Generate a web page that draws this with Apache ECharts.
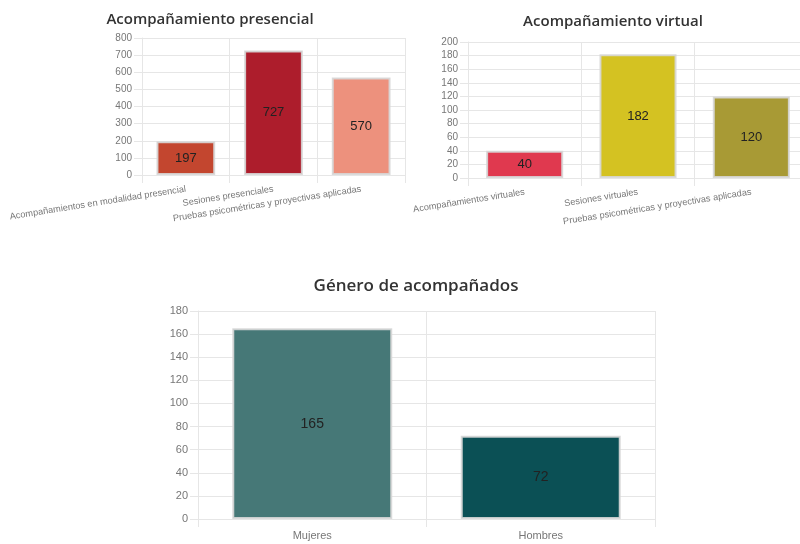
<!DOCTYPE html>
<html>
<head>
<meta charset="utf-8">
<script src="https://cdn.jsdelivr.net/npm/echarts@6/dist/echarts.min.js"></script>
<style>
  html, body { margin: 0; padding: 0; background: #fff; }
  #chart { width: 800px; height: 544px; }
</style>
</head>
<body>
<div id="chart"></div>
<script>
// datos
const presencialCats = ['Acompañamientos en modalidad presencial', 'Sesiones presenciales', 'Pruebas psicométricas y proyectivas aplicadas'];
const presencialVals = [197, 727, 570];
const presencialColors = ['#c3462f', '#ad1d2c', '#ed917d'];

const virtualCats = ['Acompañamientos virtuales', 'Sesiones virtuales', 'Pruebas psicométricas y proyectivas aplicadas'];
const virtualVals = [40, 182, 120];
const virtualColors = ['#e0394f', '#d4c222', '#a89a35'];

const generoCats = ['Mujeres', 'Hombres'];
const generoVals = [165, 72];
const generoColors = ['#467877', '#0b5055'];

const gridColor = '#e6e6e6';
const labelColor = '#777';

function makeTitle(text, x, y, size) {
  return {
    text: text,
    left: x,
    top: y,
    textAlign: 'center',
    textStyle: { fontFamily: 'Open Sans', fontWeight: 600, fontSize: size, color: '#333' }
  };
}

function makeX(idx, cats, rotate, size, margin) {
  return {
    type: 'category',
    gridIndex: idx,
    data: cats,
    boundaryGap: true,
    axisLine: { lineStyle: { color: gridColor } },
    axisTick: { show: true, length: 8, lineStyle: { color: gridColor } },
    splitLine: { show: true, lineStyle: { color: gridColor } },
    axisLabel: {
      interval: 0, rotate: rotate, margin: margin,
      fontFamily: 'Liberation Sans', fontSize: size, color: labelColor
    }
  };
}

function makeY(idx, max, interval, size) {
  return {
    type: 'value',
    gridIndex: idx,
    min: 0, max: max, interval: interval,
    axisLine: { show: true, lineStyle: { color: gridColor } },
    axisTick: { show: true, length: 8, lineStyle: { color: gridColor } },
    splitLine: { show: true, lineStyle: { color: gridColor } },
    axisLabel: { fontFamily: 'Liberation Sans', fontSize: size, color: labelColor, margin: 10 }
  };
}

function makeBars(idx, vals, colors, width, size) {
  return {
    type: 'bar',
    xAxisIndex: idx,
    yAxisIndex: idx,
    barWidth: width,
    data: vals.map((v, i) => ({
      value: v,
      itemStyle: { color: colors[i], borderColor: 'rgba(215,215,215,0.9)', borderWidth: 2 }
    })),
    label: {
      show: true, position: 'inside',
      fontFamily: 'Liberation Sans', fontSize: size, color: '#222'
    }
  };
}

const chart = echarts.init(document.getElementById('chart'));
chart.setOption({
  animation: false,
  title: [
    makeTitle('Acompañamiento presencial', 205, 7, 15),
    makeTitle('Acompañamiento virtual', 608, 9, 15),
    makeTitle('Género de acompañados', 411, 273, 17)
  ],
  grid: [
    { left: 142, top: 38, width: 263, height: 137, outerBoundsMode: 'none' },
    { left: 468, top: 42, width: 340, height: 136, outerBoundsMode: 'none' },
    { left: 198, top: 311, width: 457, height: 208, outerBoundsMode: 'none' }
  ],
  xAxis: [
    makeX(0, presencialCats, 9, 9.2, 14),
    makeX(1, virtualCats, 9, 9.2, 14),
    makeX(2, generoCats, 0, 11, 11)
  ],
  yAxis: [
    makeY(0, 800, 100, 10),
    makeY(1, 200, 20, 10),
    makeY(2, 180, 20, 11)
  ],
  series: [
    makeBars(0, presencialVals, presencialColors, '67%', 13),
    makeBars(1, virtualVals, virtualColors, '68%', 13),
    makeBars(2, generoVals, generoColors, '70%', 14)
  ]
});
</script>
</body>
</html>
